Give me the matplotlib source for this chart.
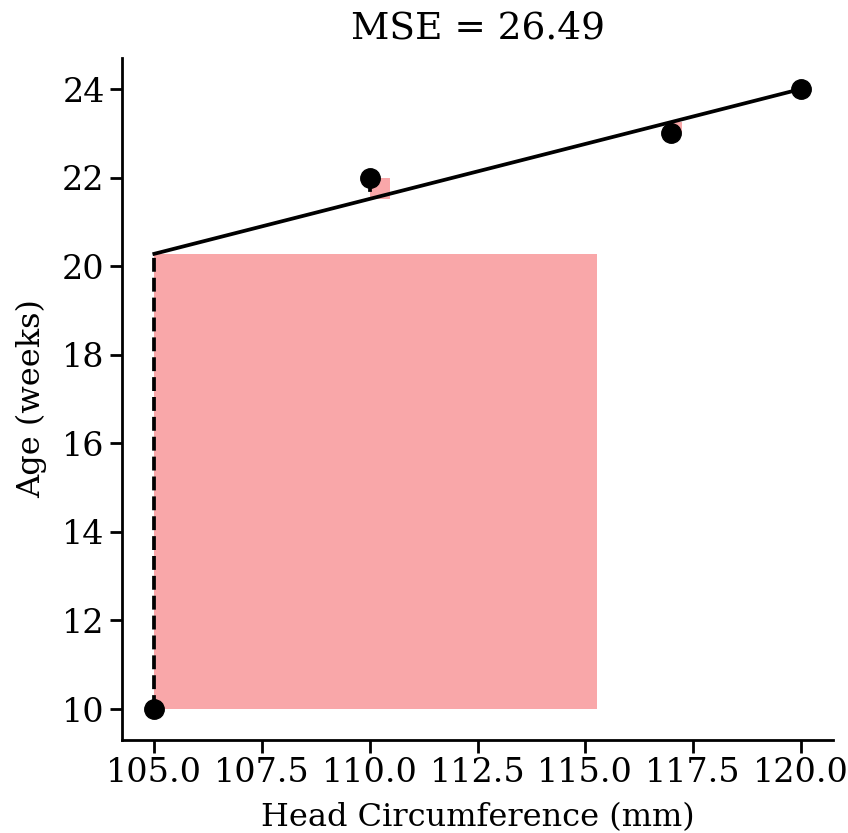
import numpy as np
import matplotlib.pyplot as plt
from matplotlib.patches import Rectangle

plt.rcParams['font.family'] = 'DejaVu Serif'

# head circumference (mm) and age (weeks)
head_mm = [105, 110, 117, 120]
age_weeks = [10, 22, 23, 24]

# fitted line
intercept = -5.76
slope = 0.248

x = np.array(head_mm, dtype=float)
y = np.array(age_weeks, dtype=float)
y_hat = intercept + slope * x
resid = y - y_hat
mse = np.mean(resid ** 2)

fig = plt.figure(figsize=(8.48, 8.33), dpi=100)
ax = fig.add_axes([0.1439, 0.1116, 0.8384, 0.8187])

# squared residuals as squares
for xi, yi, yh, r in zip(x, y, y_hat, resid):
    ax.add_patch(Rectangle((xi, min(yi, yh)), abs(r), abs(r),
                           facecolor='#f9a7a9', edgecolor='none', zorder=1))
    ax.plot([xi, xi], [yi, yh], color='black', ls='--', lw=2.7, zorder=2)

ax.plot(x, y_hat, color='black', lw=2.7, zorder=3)
ax.plot(x, y, 'o', color='black', markersize=14, zorder=4)

ax.set_xticks([105.0, 107.5, 110.0, 112.5, 115.0, 117.5, 120.0])
ax.set_yticks([10, 12, 14, 16, 18, 20, 22, 24])
ax.xaxis.set_major_formatter(plt.FormatStrFormatter('%.1f'))
ax.tick_params(labelsize=24, width=2, length=9)
ax.spines['top'].set_visible(False)
ax.spines['right'].set_visible(False)
ax.spines['left'].set_linewidth(2)
ax.spines['bottom'].set_linewidth(2)

ax.set_xlabel('Head Circumference (mm)', fontsize=23, labelpad=9)
ax.set_ylabel('Age (weeks)', fontsize=23, labelpad=11)
ax.set_title(f'MSE = {mse:.2f}', fontsize=27, pad=14)

fig.savefig('out.png', dpi=100)
